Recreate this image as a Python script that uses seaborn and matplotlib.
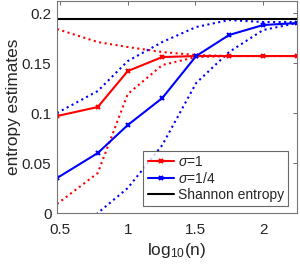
import numpy as np
import pandas as pd
import matplotlib
matplotlib.use("Agg")
import matplotlib.pyplot as plt
import seaborn as sns

n_vals = [3, 6, 10, 18, 32, 56, 100, 178]
log_n = list(np.log10(n_vals))

sigma1_mean = [0.097, 0.106, 0.142, 0.156, 0.157, 0.157, 0.157, 0.157]
sigma1_upper = [0.184, 0.171, 0.166, 0.161, 0.158, 0.157, 0.157, 0.157]
sigma1_lower = [0.009, 0.040, 0.119, 0.148, 0.156, 0.157, 0.157, 0.157]

sigma4_mean = [0.035, 0.060, 0.088, 0.115, 0.157, 0.178, 0.188, 0.190]
sigma4_upper = [0.100, 0.122, 0.152, 0.171, 0.186, 0.193, 0.191, 0.191]
sigma4_lower = [-0.040, 0.000, 0.025, 0.068, 0.130, 0.161, 0.183, 0.190]

shannon = 0.194
labels = [r"$\sigma$=1", r"$\sigma$=1/4", "Shannon entropy"]

sns.set_style("white")
plt.rcParams["font.family"] = ["Liberation Sans", "DejaVu Sans"]
plt.rcParams["mathtext.fontset"] = "custom"
plt.rcParams["mathtext.rm"] = "Liberation Sans"
plt.rcParams["mathtext.it"] = "Liberation Sans:italic"

fig = plt.figure(figsize=(3.0, 2.64), dpi=100)
ax = fig.add_axes([0.19, 0.193, 0.80, 0.805])

lw = 1.5
sns.lineplot(x=log_n, y=sigma1_upper, ax=ax, color="red", lw=lw, linestyle=":")
sns.lineplot(x=log_n, y=sigma1_lower, ax=ax, color="red", lw=lw, linestyle=":")
sns.lineplot(x=log_n, y=sigma4_upper, ax=ax, color="blue", lw=lw, linestyle=":")
sns.lineplot(x=log_n, y=sigma4_lower, ax=ax, color="blue", lw=lw, linestyle=":")
sns.lineplot(x=log_n, y=sigma1_mean, ax=ax, color="red", lw=lw, marker="x",
             markersize=3.5, markeredgewidth=1.5, markeredgecolor="red", label=labels[0])
sns.lineplot(x=log_n, y=sigma4_mean, ax=ax, color="blue", lw=lw, marker="x",
             markersize=3.5, markeredgewidth=1.5, markeredgecolor="blue", label=labels[1])
ax.axhline(shannon, color="black", lw=lw, label=labels[2])

ax.set_xlim(log_n[0], log_n[-1])
ax.set_ylim(0, 0.2125)
ax.set_xticks([0.5, 1, 1.5, 2])
ax.set_xticklabels(["0.5", "1", "1.5", "2"])
ax.set_yticks([0, 0.05, 0.1, 0.15, 0.2])
ax.set_yticklabels(["0", "0.05", "0.1", "0.15", "0.2"])
ax.tick_params(direction="in", top=True, right=True, labelsize=11,
               length=3, width=0.6, color="#555555")
ax.tick_params(axis="x", pad=7)
ax.tick_params(axis="y", pad=4)
for s in ax.spines.values():
    s.set_color("#777777")
    s.set_linewidth(0.8)
ax.set_xlabel(r"log$_{10}$(n)", fontsize=12.4, labelpad=3)
ax.set_ylabel("entropy estimates", fontsize=12.4, labelpad=0.5)

leg = ax.legend(loc="lower right", bbox_to_anchor=(0.9625, 0.033), fontsize=10,
                frameon=True, fancybox=False, edgecolor="#444444",
                handlelength=1.9, handletextpad=0.27, borderpad=0.3,
                labelspacing=0.15, borderaxespad=0.0)
leg.get_frame().set_linewidth(0.8)

fig.savefig("out.png", dpi=100)
